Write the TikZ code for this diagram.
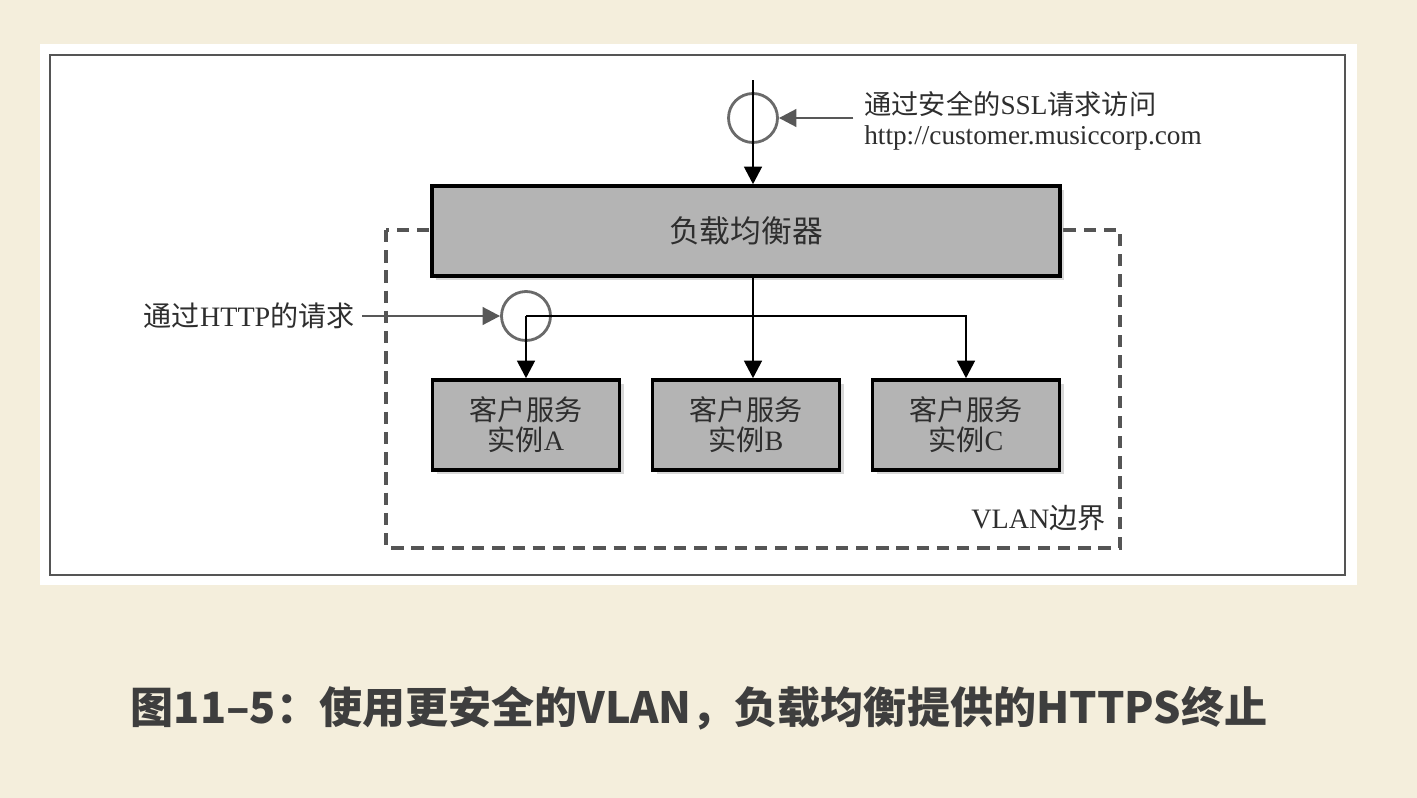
\documentclass[tikz,border=0pt]{standalone}
\usepackage{fontspec}
\setmainfont{Liberation Serif}
\newfontfamily\cjk{Noto Sans CJK SC}
\usetikzlibrary{arrows.meta, positioning, shadows, calc}
\definecolor{fondoCrema}{HTML}{F4EEDC}
\definecolor{grisCaja}{HTML}{B4B4B4}
\definecolor{grisAnillo}{HTML}{6A6A6A}
\definecolor{grisNota}{HTML}{585858}
\definecolor{grisBorde}{HTML}{555555}
\definecolor{textoOscuro}{HTML}{2E2E2E}
\definecolor{textoPie}{HTML}{3E3E3E}

\begin{document}
\begin{tikzpicture}[
        x=0.02cm, y=-0.02cm,
        caja/.style={draw=black, fill=grisCaja, line width=2pt, align=center,
            minimum height=1.8cm, text=textoOscuro, font=\fontsize{16}{17}\selectfont,
            drop shadow={shadow xshift=2.5pt, shadow yshift=-2.5pt, opacity=0.3}},
        inst/.style={caja, minimum width=3.74cm},
        anillo/.style={circle, draw=grisAnillo, line width=1.6pt, minimum size=0.98cm, inner sep=0pt},
        flujo/.style={-{Triangle[length=10pt, width=10pt]}, line width=1.6pt},
        nota/.style={-{Triangle[length=10pt, width=10pt]}, grisNota, line width=1.6pt},
        etiq/.style={inner sep=0pt, text=textoOscuro, font=\fontsize{15.5}{17}\selectfont}
    ]
        \useasboundingbox (0,0) rectangle (1417,798);
        \fill[fondoCrema] (0,0) rectangle (1417,798);
        \fill[white] (40,44) rectangle (1357,585);
        \draw[grisBorde, line width=1.1pt] (50,55) rectangle (1345,575);

        \draw[grisBorde, line width=1.8pt, dash pattern=on 7pt off 4.5pt] (386,230) rectangle (1120,548);
        \node[etiq, anchor=east, font=\fontsize{16}{17}\selectfont] (vlan) at (1106,518) {VLAN{\cjk 边界}};

        \node[caja, minimum width=12.56cm, font=\fontsize{17.5}{17}\selectfont] (lb) at (746,231) {{\cjk 负载均衡器}};
        \node[inst] (instA) at (526,425) {{\cjk 客户服务}\\{\cjk 实例}A};
        \node[inst] (instB) at (746,425) {{\cjk 客户服务}\\{\cjk 实例}B};
        \node[inst] (instC) at (966,425) {{\cjk 客户服务}\\{\cjk 实例}C};

        \node[anillo] (sslring) at (753,118) {};
        \coordinate (entrada) at (753,80);
        \node[etiq, anchor=west, align=left] (ssltxt) at (864,121)
            {{\cjk 通过安全的}SSL{\cjk 请求访问}\\http://customer.musiccorp.com};

        \node[anillo] (httpring) at (526,316) {};
        \node[etiq, anchor=east, font=\fontsize{16}{17}\selectfont] (httptxt) at (355,316) {{\cjk 通过}HTTP{\cjk 的请求}};

        \draw[flujo] (entrada) -- (entrada |- lb.north);
        \draw[nota, shorten <=6pt] (ssltxt.west |- sslring) -- (sslring);
        \draw[nota, shorten <=4pt] (httptxt) -- (httpring);

        \draw[flujo] (lb.south -| sslring) -- (instB.north -| sslring);
        \draw[flujo] (httpring.center) -| (instC.north);
        \draw[flujo] (httpring.center) -- (httpring.center |- instA.north);

        \node[text=textoPie, font=\cjk\bfseries\fontsize{24.5}{28}\selectfont] (pie) at (699,708)
            {图11–5：使用更安全的VLAN，负载均衡提供的HTTPS终止};
    \end{tikzpicture}
\end{document}
